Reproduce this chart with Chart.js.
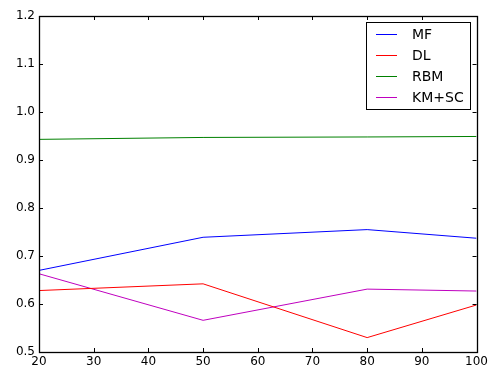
<!DOCTYPE html>
<html>
<head>
<meta charset="utf-8">
<script src="https://cdn.jsdelivr.net/npm/chart.js@4/dist/chart.umd.min.js"></script>
<style>
html,body{margin:0;padding:0;background:#fff;}
#wrap{width:491px;height:368px;position:relative;}
</style>
</head>
<body>
<div id="wrap"><canvas id="c" width="491" height="368"></canvas></div>
<script>
const xValues = [20, 50, 80, 100];
const seriesNames = ["MF", "DL", "RBM", "KM+SC"];
const mf   = [0.670, 0.739, 0.755, 0.737];
const dl   = [0.628, 0.642, 0.530, 0.598];
const rbm  = [0.943, 0.947, 0.948, 0.949];
const kmsc = [0.663, 0.566, 0.631, 0.627];
const xTicks = [20, 30, 40, 50, 60, 70, 80, 90, 100];
const yTicks = [0.5, 0.6, 0.7, 0.8, 0.9, 1.0, 1.1, 1.2];
const colors = ["#0000ff", "#ff0000", "#008000", "#bf00bf"];

const allSeries = [mf, dl, rbm, kmsc];
const datasets = allSeries.map((s, i) => ({
  label: seriesNames[i],
  data: s.map((v, j) => ({x: xValues[j], y: v})),
  borderColor: colors[i],
  backgroundColor: colors[i],
  borderWidth: 1,
  pointRadius: 0,
  tension: 0,
  fill: false
}));

const FONT = '"DejaVu Sans", sans-serif';

const framePlugin = {
  id: 'frame',
  afterDatasetsDraw(chart) {
    const ctx = chart.ctx;
    const a = chart.chartArea;
    const xs = chart.scales.x, ys = chart.scales.y;
    ctx.save();
    ctx.strokeStyle = '#000';
    ctx.lineWidth = 1;
    const tl = 4;
    ctx.beginPath();
    xTicks.forEach(t => {
      const px = Math.round(xs.getPixelForValue(t)) + 0.5;
      ctx.moveTo(px, a.bottom); ctx.lineTo(px, a.bottom - tl);
      ctx.moveTo(px, a.top); ctx.lineTo(px, a.top + tl);
    });
    yTicks.forEach(t => {
      const py = Math.round(ys.getPixelForValue(t)) + 0.5;
      ctx.moveTo(a.left, py); ctx.lineTo(a.left + tl, py);
      ctx.moveTo(a.right, py); ctx.lineTo(a.right - tl, py);
    });
    ctx.stroke();
    ctx.lineWidth = 1.3;
    ctx.strokeRect(Math.round(a.left) + 0.5, Math.round(a.top) + 0.5,
                   Math.round(a.right - a.left), Math.round(a.bottom - a.top));
    // legend
    const bw = 104, bh = 87;
    const bx = Math.round(a.right) - 7 - bw, by = Math.round(a.top) + 6;
    ctx.fillStyle = '#fff';
    ctx.fillRect(bx, by, bw, bh);
    ctx.lineWidth = 1;
    ctx.strokeStyle = '#000';
    ctx.strokeRect(bx + 0.5, by + 0.5, bw, bh);
    ctx.font = '14px ' + FONT;
    ctx.textBaseline = 'middle';
    ctx.textAlign = 'left';
    chart.data.datasets.forEach((d, i) => {
      const yy = by + 12 + i * 21 + 0.5;
      ctx.lineWidth = 1;
      ctx.strokeStyle = d.borderColor;
      ctx.beginPath();
      ctx.moveTo(bx + 10, yy); ctx.lineTo(bx + 31, yy);
      ctx.stroke();
      ctx.fillStyle = '#000';
      ctx.fillText(d.label, bx + 46, yy + 1);
    });
    ctx.restore();
  }
};

new Chart(document.getElementById('c'), {
  type: 'line',
  data: { datasets },
  options: {
    responsive: false,
    animation: false,
    devicePixelRatio: 1,
    layout: { padding: { top: 16, right: 13, left: 0, bottom: 0 } },
    plugins: { legend: { display: false }, tooltip: { enabled: false } },
    scales: {
      x: {
        type: 'linear',
        min: 20, max: 100,
        afterFit(s) { s.height = 16; },
        afterBuildTicks(s) { s.ticks = xTicks.map(v => ({value: v})); },
        grid: { display: false, drawTicks: false },
        border: { display: false },
        ticks: { color: '#000', font: { family: FONT, size: 12 }, padding: 3, maxRotation: 0, autoSkip: false }
      },
      y: {
        min: 0.5, max: 1.2,
        afterFit(s) { s.width = 39; },
        afterBuildTicks(s) { s.ticks = yTicks.map(v => ({value: v})); },
        grid: { display: false, drawTicks: false },
        border: { display: false },
        ticks: { color: '#000', font: { family: FONT, size: 12 }, padding: 4, autoSkip: false,
                 callback: v => Number(v).toFixed(1) }
      }
    }
  },
  plugins: [framePlugin]
});
</script>
</body>
</html>
